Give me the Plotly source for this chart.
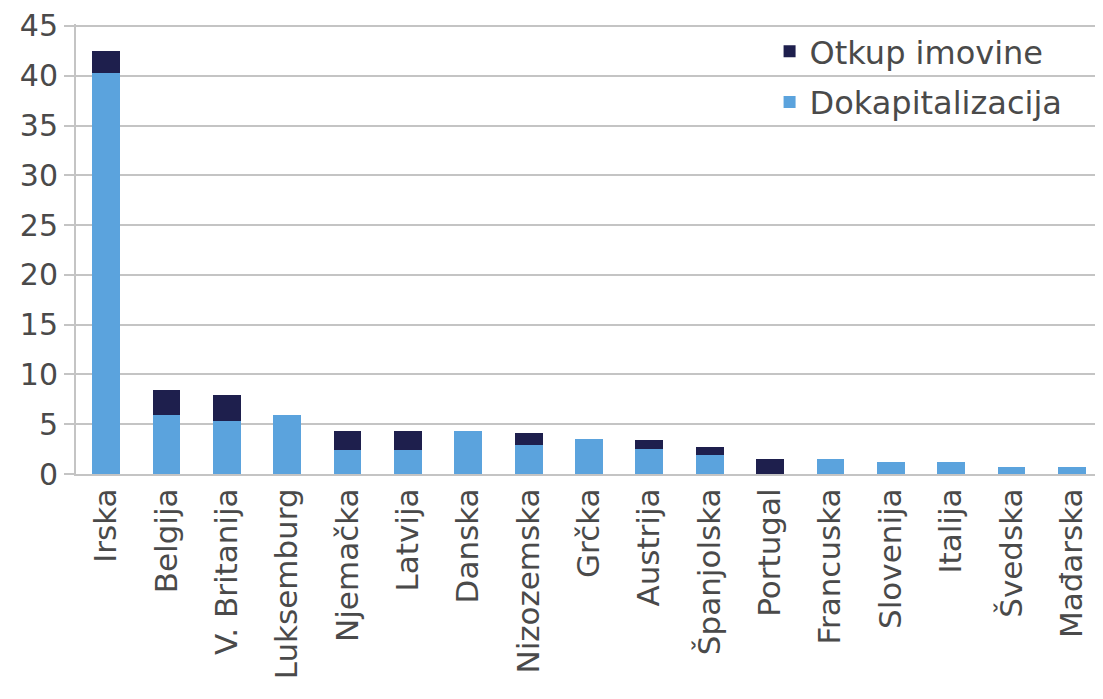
import plotly.graph_objects as go

countries = ["Irska", "Belgija", "V. Britanija", "Luksemburg", "Njemačka", "Latvija",
             "Danska", "Nizozemska", "Grčka", "Austrija", "Španjolska", "Portugal",
             "Francuska", "Slovenija", "Italija", "Švedska", "Mađarska"]
dokapitalizacija = [40.3, 5.9, 5.3, 5.9, 2.4, 2.4, 4.3, 2.9, 3.5, 2.5, 1.9, 0.0,
                    1.5, 1.2, 1.2, 0.7, 0.7]
otkup_imovine = [2.2, 2.5, 2.6, 0.0, 1.95, 1.95, 0.0, 1.2, 0.0, 0.9, 0.8, 1.5,
                 0.0, 0.0, 0.0, 0.0, 0.0]
y_ticks = [0, 5, 10, 15, 20, 25, 30, 35, 40, 45]

FONT = "DejaVu Sans"
TXT = "#4a4a4a"
GRID = "#c4c4c4"

fig = go.Figure()
fig.add_trace(go.Bar(x=countries, y=dokapitalizacija, name="Dokapitalizacija",
                     marker=dict(color="#5ba3dd", line=dict(width=0)),
                     legendgroup="b", legendrank=2))
fig.add_trace(go.Bar(x=countries, y=otkup_imovine, name="Otkup imovine",
                     marker=dict(color="#1e1f4d", line=dict(width=0)),
                     legendgroup="a", legendrank=1))

fig.update_layout(
    width=1095, height=691,
    margin=dict(l=68, r=1, t=16, b=225, autoexpand=False),
    barmode="stack", bargap=0.54,
    plot_bgcolor="white", paper_bgcolor="white",
    font=dict(family=FONT, color=TXT, size=30),
    legend=dict(x=0.676, xanchor="left", y=1.0, yanchor="top",
                font=dict(size=32, color=TXT, family=FONT),
                traceorder="grouped", tracegroupgap=6,
                bgcolor="rgba(0,0,0,0)"),
    showlegend=True,
)
fig.update_yaxes(range=[0, 45.2], tickvals=y_ticks, showgrid=True, gridcolor=GRID, gridwidth=2,
                 showline=True, linecolor=GRID, linewidth=2,
                 ticks="outside", ticklen=10, tickcolor=GRID, tickwidth=2,
                 tickfont=dict(size=30, color=TXT, family=FONT), zeroline=False,
                 automargin=False)
fig.update_xaxes(showline=True, linecolor=GRID, linewidth=2, ticks="", ticklen=0,
                 tickangle=-90, tickfont=dict(size=31, color=TXT, family=FONT),
                 automargin=False)

fig.write_html("out.html")
